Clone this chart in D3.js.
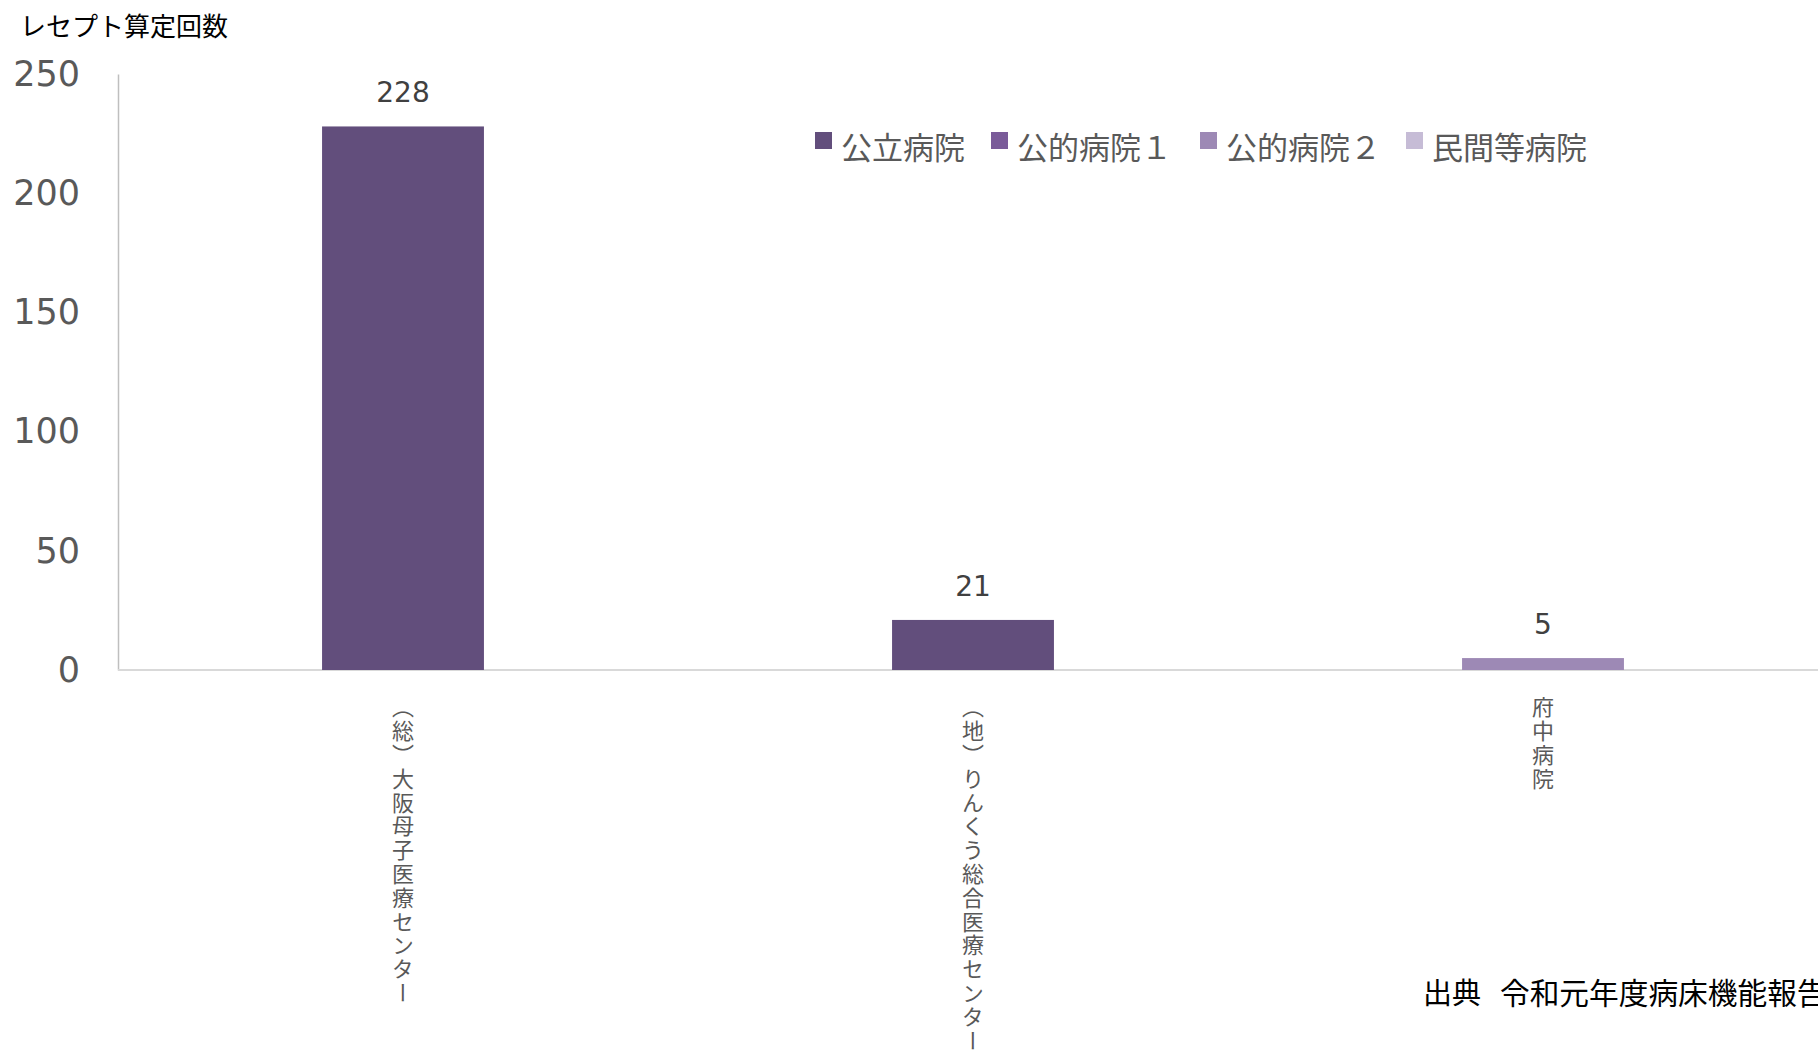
<!DOCTYPE html>
<html>
<head>
<meta charset="utf-8">
<script src="https://cdn.jsdelivr.net/npm/d3@7"></script>
<style>
  body { margin: 0; background: #fff; }
  svg { display: block; }
</style>
</head>
<body>
<script>
// data
var hospitals = ["（総）大阪母子医療センター", "（地）りんくう総合医療センター", "府中病院"]
var counts = [228, 21, 5]
var hospitalType = ["公立病院", "公立病院", "公的病院２"]
var legendNames = ["公立病院", "公的病院１", "公的病院２", "民間等病院"]
var yTicks = [0, 50, 100, 150, 200, 250]

var width = 1818, height = 1051
var jp = "'Noto Sans CJK JP', 'Noto Sans', sans-serif"
var num = "'DejaVu Sans', Verdana, sans-serif"

var color = d3.scaleOrdinal()
    .domain(legendNames)
    .range(["#624e7c", "#7a5b99", "#9d89b5", "#c6bcd6"])

var svg = d3.select("body")
    .append("svg")
    .attr("width", width)
    .attr("height", height)

// scales
var x = d3.scaleBand()
    .domain(hospitals)
    .range([118, 1828])
    .paddingInner(0.716)
    .paddingOuter(0.358)

var y = d3.scaleLinear()
    .domain([0, 250])
    .range([670, 74])

// title
svg.append("text")
    .attr("x", 20)
    .attr("y", 36)
    .style("font-family", jp)
    .style("font-size", "26px")
    .style("fill", "#000")
    .text("レセプト算定回数")

// y axis
var yAxis = svg.append("g")
    .attr("transform", "translate(118,0)")
    .call(d3.axisLeft(y).tickValues(yTicks).tickSize(0).tickPadding(38))
yAxis.select(".domain").attr("stroke", "#bfbfbf").attr("stroke-width", 1.5)
yAxis.selectAll("text")
    .style("font-family", num)
    .style("font-size", "35px")
    .style("fill", "#595959")

// baseline
svg.append("line")
    .attr("x1", 118).attr("x2", width)
    .attr("y1", y(0)).attr("y2", y(0))
    .attr("stroke", "#d9d9d9")
    .attr("stroke-width", 2)

// bars
svg.selectAll(".bar")
    .data(hospitals)
    .enter().append("rect")
    .attr("class", "bar")
    .attr("x", function(d) { return x(d) })
    .attr("width", x.bandwidth())
    .attr("y", function(d, i) { return y(counts[i]) })
    .attr("height", function(d, i) { return y(0) - y(counts[i]) })
    .style("fill", function(d, i) { return color(hospitalType[i]) })

// value labels
svg.selectAll(".val")
    .data(hospitals)
    .enter().append("text")
    .attr("class", "val")
    .attr("x", function(d) { return x(d) + x.bandwidth() / 2 })
    .attr("y", function(d, i) { return y(counts[i]) - 24 })
    .attr("text-anchor", "middle")
    .style("font-family", num)
    .style("font-size", "28px")
    .style("fill", "#404040")
    .text(function(d, i) { return counts[i] })

// category labels, vertical
svg.selectAll(".cat")
    .data(hospitals)
    .enter().append("text")
    .attr("class", "cat")
    .attr("x", function(d) { return x(d) + x.bandwidth() / 2 })
    .attr("y", 696)
    .style("writing-mode", "vertical-rl")
    .style("letter-spacing", "1.8px")
    .style("font-family", jp)
    .style("font-size", "22px")
    .style("fill", "#595959")
    .text(function(d) { return d })

// legend
var legendX = [815, 991, 1200, 1406]
var lg = svg.selectAll(".legend")
    .data(legendNames)
    .enter().append("g")
    .attr("class", "legend")
    .attr("transform", function(d, i) { return "translate(" + legendX[i] + ",132)" })

lg.append("rect")
    .attr("width", 17)
    .attr("height", 17)
    .style("fill", function(d) { return color(d) })

lg.append("text")
    .attr("x", 26)
    .attr("y", 27)
    .style("font-family", jp)
    .style("font-size", "31px")
    .style("fill", "#595959")
    .text(function(d) { return d })

// source note
svg.append("text")
    .attr("x", 1423)
    .attr("y", 1004)
    .style("font-family", jp)
    .style("font-size", "29px")
    .style("fill", "#000")
    .text("出典")
svg.append("text")
    .attr("x", 1500)
    .attr("y", 1004)
    .style("font-family", jp)
    .style("font-size", "29.7px")
    .style("fill", "#000")
    .text("令和元年度病床機能報告")
</script>
</body>
</html>
